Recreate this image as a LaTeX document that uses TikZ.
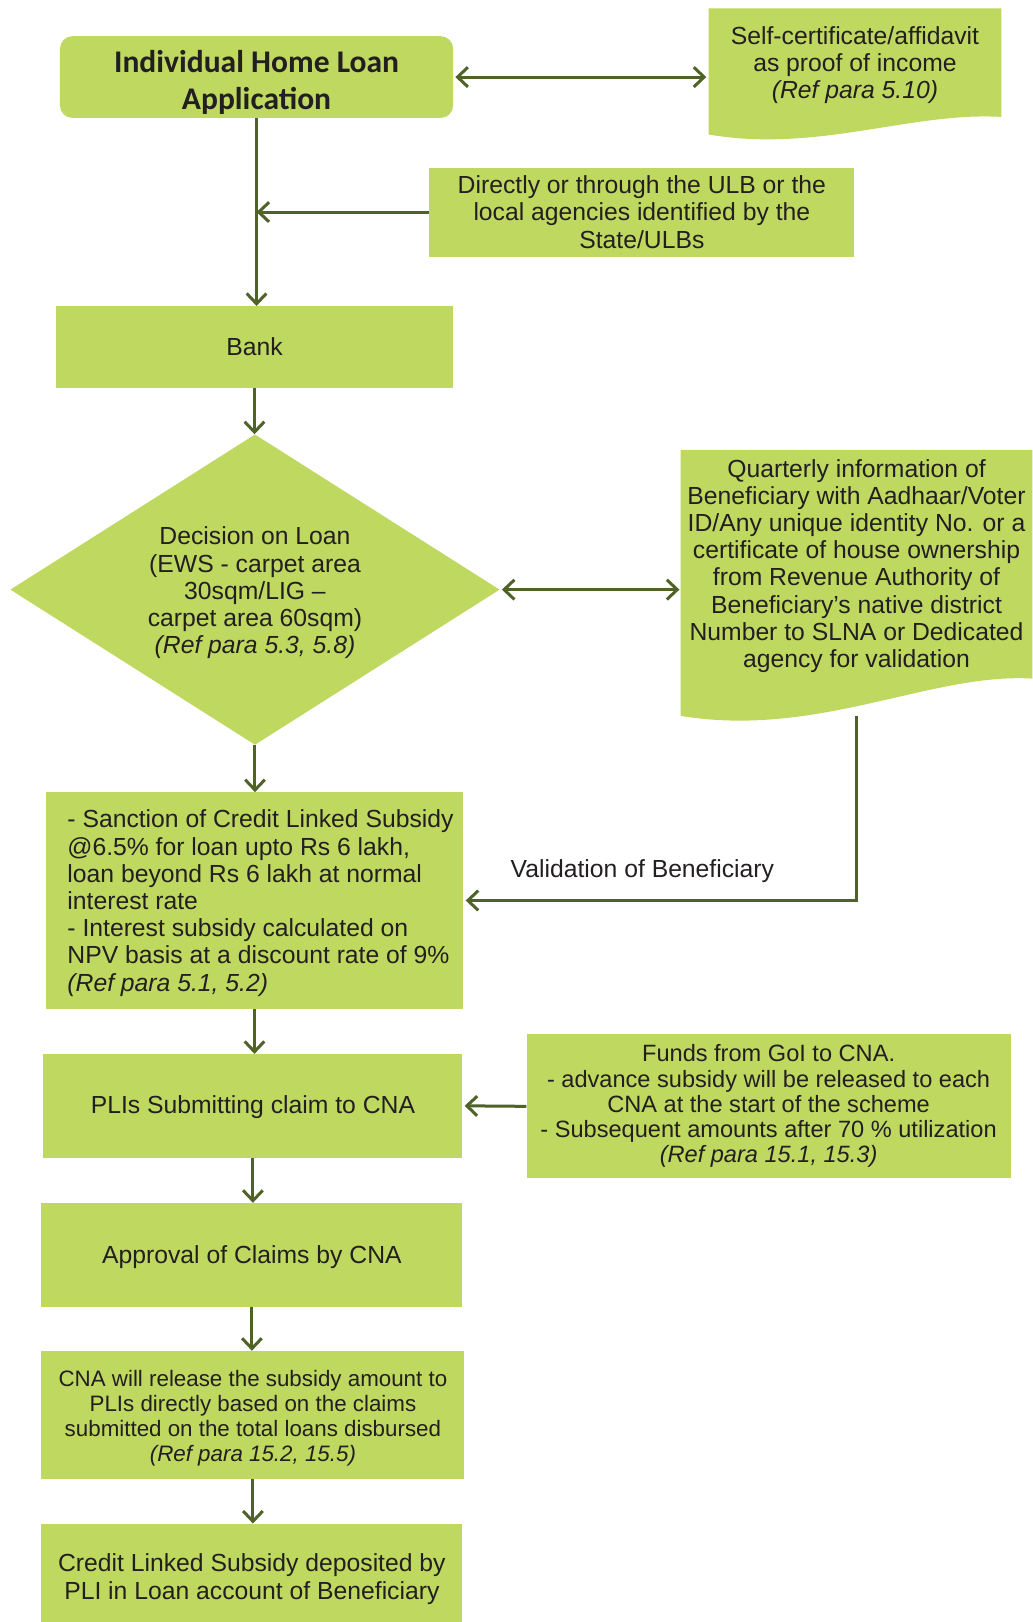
\documentclass[tikz,border=0pt]{standalone}
\usepackage{fontspec}
\setmainfont{Liberation Sans}
\newfontfamily\titlefont{Carlito}
\usetikzlibrary{shapes.geometric,arrows.meta}
\definecolor{boxgreen}{RGB}{190,216,96}
\definecolor{arrowcol}{RGB}{79,98,40}
\definecolor{txt}{RGB}{35,31,32}
\newcommand{\shiftedtext}[2]{\raisebox{#1}[\height][\depth]{\begin{tabular}{@{}c@{}}#2\end{tabular}}}
\begin{document}
\begin{tikzpicture}[x=1pt,y=-1pt,
  every node/.style={text=txt},
  box/.style={fill=boxgreen, draw=none, inner sep=0pt, align=center, font=\fontsize{23.9}{26.3}\selectfont},
  plain/.style={inner sep=0pt, align=center, font=\fontsize{23.9}{26.3}\selectfont},
  small/.style={font=\fontsize{22.8}{24.4}\selectfont},
  smaller/.style={font=\fontsize{21.6}{24}\selectfont},
  tip/.tip={Straight Barb[length=10pt,width=19pt]},
  conn/.style={draw=arrowcol, line width=2.9pt, -tip},
  biconn/.style={draw=arrowcol, line width=2.9pt, tip-tip}
]
\useasboundingbox (0,0) rectangle (998,1568);
\fill[white] (0,0) rectangle (998,1568);

% document shapes
\fill[boxgreen] (685,8) -- (968,8) -- (968,113) .. controls (880,108) and (790,148) .. (685,130) -- cycle;
\fill[boxgreen] (658,435) -- (998,435) -- (998,656) .. controls (900,650) and (790,714) .. (658,692) -- cycle;

% nodes
\node[box, rounded corners=12pt, minimum width=380pt, minimum height=79pt,
      font=\titlefont\bfseries\fontsize{30.5}{36}\selectfont] (app) at (248,74.5)
  {\shiftedtext{-6pt}{Individual Home Loan\\Application}};
\node[plain, minimum width=283pt] (self) at (826.5,63)
  {Self-certificate/affidavit\\as proof of income\\\textit{(Ref para 5.10)}};
\node[box, minimum width=411pt, minimum height=86pt] (dir) at (620.5,205)
  {Directly or through the ULB or the\\local agencies identified by the\\State/ULBs};
\node[box, minimum width=384pt, minimum height=79pt] (bank) at (246,335.5) {Bank};
\node[box, shape=diamond, aspect=1.577, minimum width=473pt, minimum height=300pt] (dec) at (246.5,570)
  {\shiftedtext{-4pt}{Decision on Loan\\(EWS - carpet area\\30sqm/LIG –\\carpet area 60sqm)\\\textit{(Ref para 5.3, 5.8)}}};
\node[plain, minimum width=340pt] (q) at (828,547)
  {Quarterly information of\\Beneficiary with Aadhaar/Voter\\ID/Any unique identity No. or a\\certificate of house ownership\\from Revenue Authority of\\Beneficiary’s native district\\Number to SLNA or Dedicated\\agency for validation};
\coordinate (qb) at (828,692);
\node[box, minimum width=404pt, minimum height=209pt] (sanc) at (246,870.5) {};
\node[plain, anchor=west, align=left] (sanct) at (65,873)
  {- Sanction of Credit Linked Subsidy\\@6.5\% for loan upto Rs 6 lakh,\\loan beyond Rs 6 lakh at normal\\interest rate\\- Interest subsidy calculated on\\NPV basis at a discount rate of 9\%\\\textit{(Ref para 5.1, 5.2)}};
\node[box, minimum width=405pt, minimum height=100pt] (pli) at (244.5,1069) {\shiftedtext{-2pt}{PLIs Submitting claim to CNA}};
\node[box, small, minimum width=468pt, minimum height=139pt] (funds) at (743,1069.5)
  {Funds from GoI to CNA.\\- advance subsidy will be released to each\\CNA at the start of the scheme\\- Subsequent amounts after 70 \% utilization\\\textit{(Ref para 15.1, 15.3)}};
\node[box, minimum width=407pt, minimum height=100pt] (appr) at (243.5,1213) {\shiftedtext{-3pt}{Approval of Claims by CNA}};
\node[box, smaller, minimum width=409pt, minimum height=124pt] (cna) at (244.5,1368)
  {\shiftedtext{-4pt}{CNA will release the subsidy amount to\\PLIs directly based on the claims\\submitted on the total loans disbursed\\\textit{(Ref para 15.2, 15.5)}}};
\node[box, minimum width=407pt, minimum height=95pt] (credit) at (243.5,1520.5)
  {\shiftedtext{-7pt}{Credit Linked Subsidy deposited by\\PLI in Loan account of Beneficiary}};
\node[plain] (val) at (621,842) {Validation of Beneficiary};

% connectors
\draw[biconn] ([xshift=2pt]app.east) -- ([xshift=-2pt]app.east -| self.west);
\draw[conn] (app.south) -- (app.south |- bank.north);
\draw[conn] (dir.west) -- (dir.west -| app.south);
\draw[conn] (bank.south) -- (bank.south |- dec.north);
\draw[biconn] ([xshift=2pt]dec.east) -- ([xshift=-1pt]dec.east -| q.west);
\draw[conn] (dec.south) -- (dec.south |- sanc.north);
\draw[conn] (qb) |- ([xshift=2pt]sanc.east);
\draw[conn] (sanc.south) -- (sanc.south |- pli.north);
\draw[conn] (funds.west) -- ([xshift=2pt]pli.east);
\draw[conn] (pli.south) -- (pli.south |- appr.north);
\draw[conn] (appr.south) -- (appr.south |- cna.north);
\draw[conn] (cna.south) -- (cna.south |- credit.north);
\end{tikzpicture}
\end{document}
